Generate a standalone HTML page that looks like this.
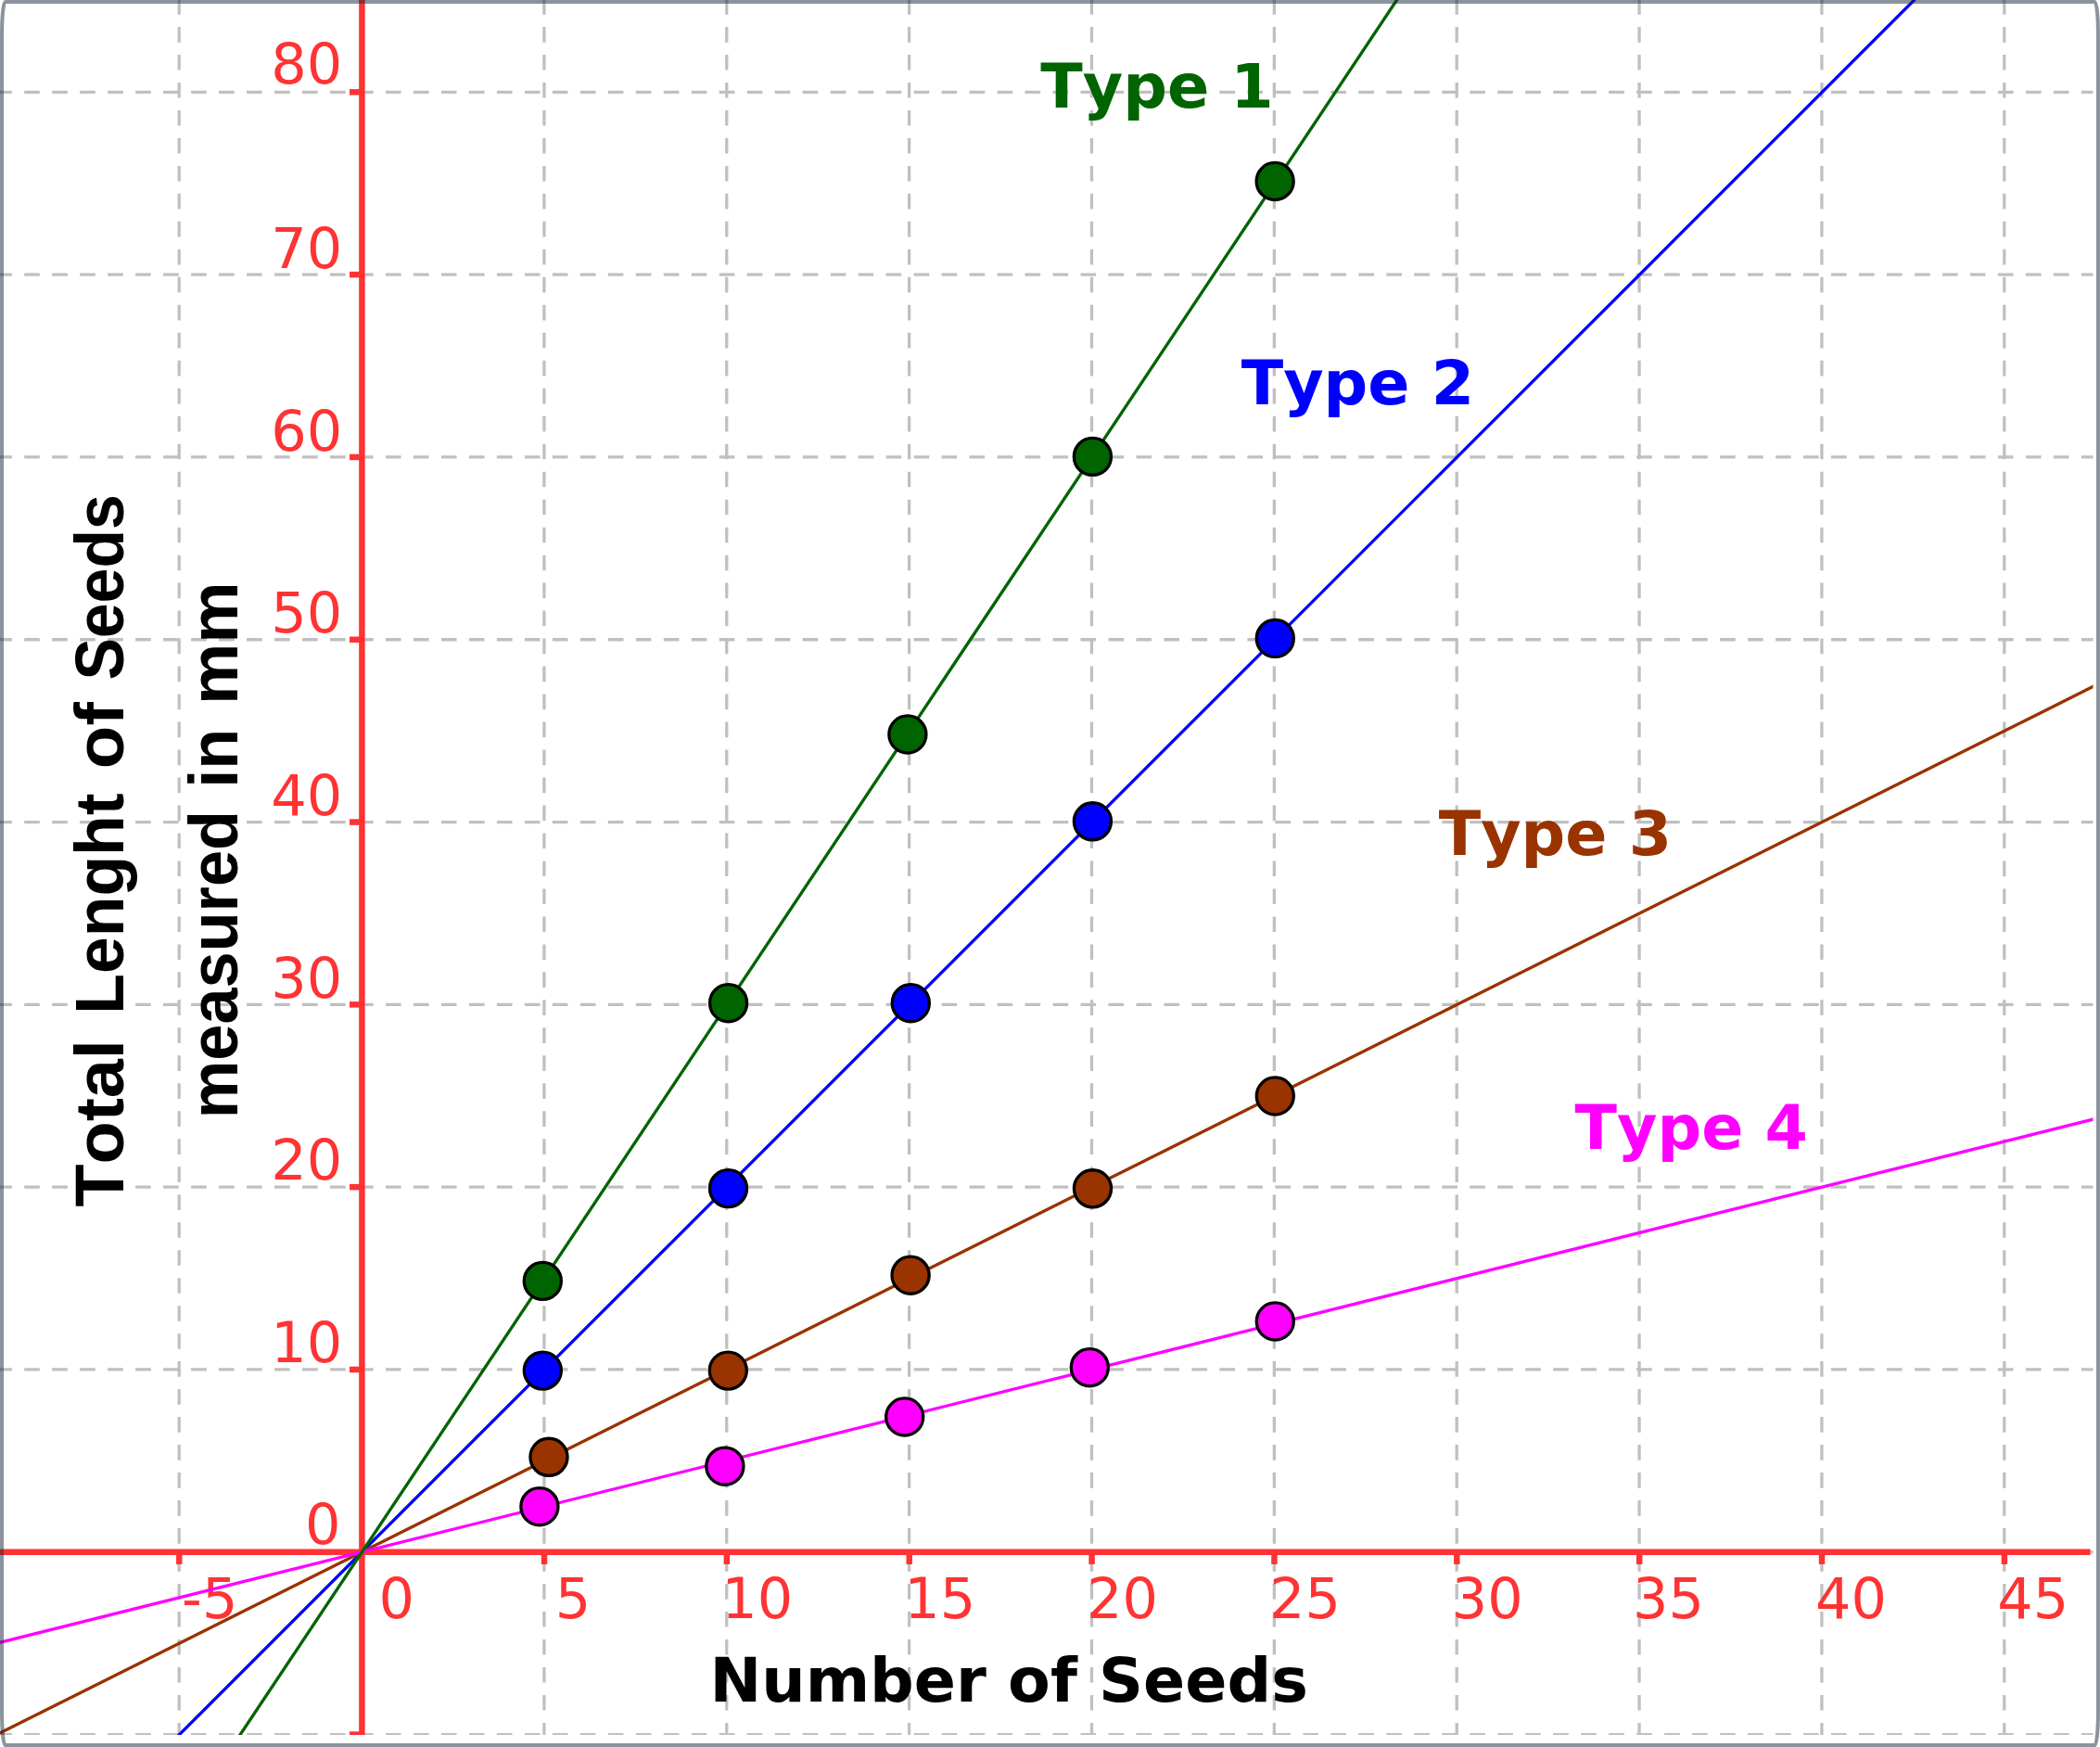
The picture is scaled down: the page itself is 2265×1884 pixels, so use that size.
<!DOCTYPE html>
<html lang="en">
<head>
<meta charset="utf-8">
<title>Seeds chart</title>
<style>
html,body{margin:0;padding:0;background:#fff;}
body{width:2265px;height:1884px;overflow:hidden;}
svg{display:block;}
text{font-kerning:none;font-variant-ligatures:none;}
</style>
</head>
<body>
<svg width="2265" height="1884" viewBox="0 0 2265 1884">
<defs><clipPath id="vp"><rect x="0" y="0" width="2257.5" height="1871"/></clipPath></defs>
<rect width="2265" height="1884" fill="#fff"/>
<g clip-path="url(#vp)">
<g stroke="#c0c0c0" stroke-opacity="1" stroke-width="3.3" fill="none" stroke-dasharray="16.66 13.322">
<line x1="193.19" y1="-1.0" x2="193.19" y2="1884"/>
<line x1="390.05" y1="-1.0" x2="390.05" y2="1884"/>
<line x1="586.91" y1="-1.0" x2="586.91" y2="1884"/>
<line x1="783.77" y1="-1.0" x2="783.77" y2="1884"/>
<line x1="980.63" y1="-1.0" x2="980.63" y2="1884"/>
<line x1="1177.49" y1="-1.0" x2="1177.49" y2="1884"/>
<line x1="1374.35" y1="-1.0" x2="1374.35" y2="1884"/>
<line x1="1571.21" y1="-1.0" x2="1571.21" y2="1884"/>
<line x1="1768.07" y1="-1.0" x2="1768.07" y2="1884"/>
<line x1="1964.93" y1="-1.0" x2="1964.93" y2="1884"/>
<line x1="2161.79" y1="-1.0" x2="2161.79" y2="1884"/>
<line x1="-3.8" y1="1870.55" x2="2265" y2="1870.55"/>
<line x1="-3.8" y1="1673.75" x2="2265" y2="1673.75"/>
<line x1="-3.8" y1="1476.95" x2="2265" y2="1476.95"/>
<line x1="-3.8" y1="1280.15" x2="2265" y2="1280.15"/>
<line x1="-3.8" y1="1083.35" x2="2265" y2="1083.35"/>
<line x1="-3.8" y1="886.55" x2="2265" y2="886.55"/>
<line x1="-3.8" y1="689.75" x2="2265" y2="689.75"/>
<line x1="-3.8" y1="492.95" x2="2265" y2="492.95"/>
<line x1="-3.8" y1="296.15" x2="2265" y2="296.15"/>
<line x1="-3.8" y1="99.35" x2="2265" y2="99.35"/>
</g>
<g stroke="#ff3333" stroke-width="6.5" fill="none">
<line x1="0" y1="1673.75" x2="2254.6" y2="1673.75"/>
<line x1="390.4" y1="0" x2="390.4" y2="1884"/>
<line x1="193.29" y1="1673.75" x2="193.29" y2="1686.95"/>
<line x1="587.01" y1="1673.75" x2="587.01" y2="1686.95"/>
<line x1="783.87" y1="1673.75" x2="783.87" y2="1686.95"/>
<line x1="980.73" y1="1673.75" x2="980.73" y2="1686.95"/>
<line x1="1177.59" y1="1673.75" x2="1177.59" y2="1686.95"/>
<line x1="1374.45" y1="1673.75" x2="1374.45" y2="1686.95"/>
<line x1="1571.31" y1="1673.75" x2="1571.31" y2="1686.95"/>
<line x1="1768.17" y1="1673.75" x2="1768.17" y2="1686.95"/>
<line x1="1965.03" y1="1673.75" x2="1965.03" y2="1686.95"/>
<line x1="2161.89" y1="1673.75" x2="2161.89" y2="1686.95"/>
<line x1="377.0" y1="1870.55" x2="390.4" y2="1870.55"/>
<line x1="377.0" y1="1476.95" x2="390.4" y2="1476.95"/>
<line x1="377.0" y1="1280.15" x2="390.4" y2="1280.15"/>
<line x1="377.0" y1="1083.35" x2="390.4" y2="1083.35"/>
<line x1="377.0" y1="886.55" x2="390.4" y2="886.55"/>
<line x1="377.0" y1="689.75" x2="390.4" y2="689.75"/>
<line x1="377.0" y1="492.95" x2="390.4" y2="492.95"/>
<line x1="377.0" y1="296.15" x2="390.4" y2="296.15"/>
<line x1="377.0" y1="99.35" x2="390.4" y2="99.35"/>
</g>
<g font-family="'DejaVu Sans', 'Liberation Sans', sans-serif" font-size="60.5" fill="#ff3333">
<text x="226.24" y="1744.8" text-anchor="middle">-5</text>
<text x="408.6" y="1744.8">0</text>
<text x="618.06" y="1744.8" text-anchor="middle">5</text>
<text x="816.82" y="1744.8" text-anchor="middle">10</text>
<text x="1013.68" y="1744.8" text-anchor="middle">15</text>
<text x="1210.54" y="1744.8" text-anchor="middle">20</text>
<text x="1407.40" y="1744.8" text-anchor="middle">25</text>
<text x="1604.26" y="1744.8" text-anchor="middle">30</text>
<text x="1799.42" y="1744.8" text-anchor="middle">35</text>
<text x="1996.58" y="1744.8" text-anchor="middle">40</text>
<text x="2192.74" y="1744.8" text-anchor="middle">45</text>
<text x="367.6" y="1665.25" text-anchor="end">0</text>
<text x="369.3" y="1468.95" text-anchor="end">10</text>
<text x="369.3" y="1272.05" text-anchor="end">20</text>
<text x="369.3" y="1075.75" text-anchor="end">30</text>
<text x="369.3" y="878.85" text-anchor="end">40</text>
<text x="369.3" y="682.25" text-anchor="end">50</text>
<text x="369.3" y="485.85" text-anchor="end">60</text>
<text x="369.3" y="289.25" text-anchor="end">70</text>
<text x="369.3" y="89.95" text-anchor="end">80</text>
</g>
<line x1="-82.06" y1="2146.07" x2="2359.00" y2="-294.25" stroke="#0000ff" stroke-width="3.35"/>
<line x1="-82.06" y1="1909.91" x2="2359.00" y2="689.75" stroke="#993300" stroke-width="3.35"/>
<line x1="-82.06" y1="1791.83" x2="2359.00" y2="1181.75" stroke="#ff00ff" stroke-width="3.35"/>
<line x1="-82.06" y1="2382.23" x2="2359.00" y2="-1278.25" stroke="#006400" stroke-width="3.35"/>
<g stroke="#000" stroke-width="3.3">
<circle cx="585.3" cy="1381.4" r="20.05" fill="#006400"/>
<circle cx="785.6" cy="1081.7" r="20.05" fill="#006400"/>
<circle cx="978.9" cy="792.0" r="20.05" fill="#006400"/>
<circle cx="1178.4" cy="492.4" r="20.05" fill="#006400"/>
<circle cx="1375.15" cy="195.5" r="20.05" fill="#006400"/>
<circle cx="585.3" cy="1478.1" r="20.05" fill="#0000ff"/>
<circle cx="785.5" cy="1281.6" r="20.05" fill="#0000ff"/>
<circle cx="982.3" cy="1081.7" r="20.05" fill="#0000ff"/>
<circle cx="1178.4" cy="885.8" r="20.05" fill="#0000ff"/>
<circle cx="1375.3" cy="688.4" r="20.05" fill="#0000ff"/>
<circle cx="592" cy="1571.3" r="20.05" fill="#993300"/>
<circle cx="785.3" cy="1478.1" r="20.05" fill="#993300"/>
<circle cx="982.1" cy="1375.2" r="20.05" fill="#993300"/>
<circle cx="1178.5" cy="1281.8" r="20.05" fill="#993300"/>
<circle cx="1375.3" cy="1182.0" r="20.05" fill="#993300"/>
<circle cx="581.9" cy="1624.7" r="20.05" fill="#ff00ff"/>
<circle cx="781.9" cy="1581.2" r="20.05" fill="#ff00ff"/>
<circle cx="975.7" cy="1528.0" r="20.05" fill="#ff00ff"/>
<circle cx="1175.3" cy="1474.7" r="20.05" fill="#ff00ff"/>
<circle cx="1375.3" cy="1425.0" r="20.05" fill="#ff00ff"/>
</g>
<text x="1122.3" y="116.0" font-family="'DejaVu Sans', 'Liberation Sans', sans-serif" font-weight="bold" font-size="66.67" fill="#006400">Type 1</text>
<text x="1338.7" y="436.2" font-family="'DejaVu Sans', 'Liberation Sans', sans-serif" font-weight="bold" font-size="66.67" fill="#0000ff">Type 2</text>
<text x="1551.7" y="922.3" font-family="'DejaVu Sans', 'Liberation Sans', sans-serif" font-weight="bold" font-size="66.67" fill="#993300">Type 3</text>
<text x="1698.5" y="1238.6" font-family="'DejaVu Sans', 'Liberation Sans', sans-serif" font-weight="bold" font-size="66.67" fill="#ff00ff">Type 4</text>
<text x="765.4" y="1834.5" font-family="'DejaVu Sans', 'Liberation Sans', sans-serif" font-weight="bold" font-size="66.67" fill="#000">Number of Seeds</text>
<g transform="translate(132.5 0) rotate(-90)" font-family="'Liberation Sans', 'DejaVu Sans', sans-serif" font-weight="bold" font-size="74.9" fill="#000">
<text x="-1301.55" y="0" textLength="180.40" lengthAdjust="spacingAndGlyphs">Total</text>
<text x="-1093.78" y="0" textLength="238.36" lengthAdjust="spacingAndGlyphs">Lenght</text>
<text x="-829.18" y="0" textLength="72.03" lengthAdjust="spacingAndGlyphs">of</text>
<text x="-733.56" y="0" textLength="200.35" lengthAdjust="spacingAndGlyphs">Seeds</text>
</g>
<g transform="translate(255.7 0) rotate(-90)" font-family="'Liberation Sans', 'DejaVu Sans', sans-serif" font-weight="bold" font-size="74.9" fill="#000">
<text x="-1206.13" y="0" textLength="332.07" lengthAdjust="spacingAndGlyphs">measured</text>
<text x="-849.73" y="0" textLength="63.99" lengthAdjust="spacingAndGlyphs">in</text>
<text x="-759.91" y="0" textLength="132.53" lengthAdjust="spacingAndGlyphs">mm</text>
</g>
</g>
<rect x="2" y="2" width="2261" height="1880" rx="3.5" ry="38" fill="none" stroke="rgb(25,39,59)" stroke-opacity="0.5" stroke-width="4"/>
</svg>
</body>
</html>
